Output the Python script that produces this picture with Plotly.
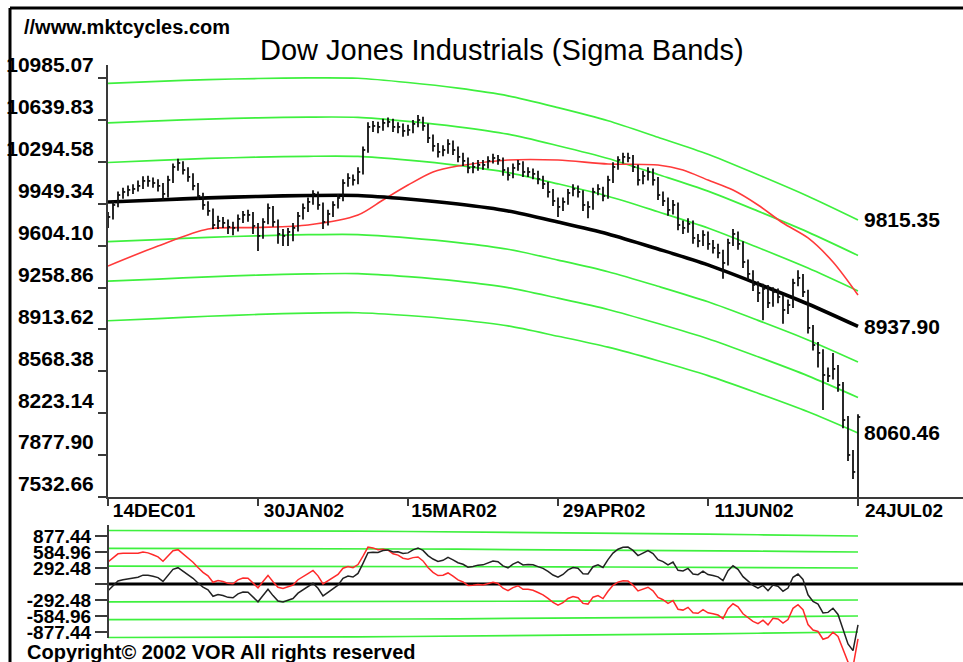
import plotly.graph_objects as go

# ---------------- data ----------------
DATE_TICKS = [0, 30, 60, 90, 120, 150]
DATE_LABELS = ["14DEC01", "30JAN02", "15MAR02", "29APR02", "11JUN02", "24JUL02"]

PRICE_TICKS = [7532.66, 7877.90, 8223.14, 8568.38, 8913.62, 9258.86,
               9604.10, 9949.34, 10294.58, 10639.83, 10985.07]

OSC_TICKS = [877.44, 584.96, 292.48, 0, -292.48, -584.96, -877.44]
OSC_LABELS = ["877.44", "584.96", "292.48", "", "-292.48", "-584.96", "-877.44"]

CLOSE = [9840, 9939, 10021, 10046, 10063, 10071, 10096, 10137, 10137, 10120,
         10096, 10030, 10145, 10252, 10285, 10227, 10170, 10096, 10013, 9939,
         9890, 9774, 9807, 9791, 9758, 9750, 9824, 9857, 9857, 9766,
         9684, 9799, 9914, 9799, 9700, 9684, 9717, 9750, 9848, 9914,
         9964, 10030, 9939, 9799, 9865, 9939, 9997, 10120, 10161, 10145,
         10211, 10392, 10582, 10590, 10582, 10615, 10623, 10582, 10582, 10549,
         10557, 10607, 10639, 10590, 10491, 10425, 10376, 10392, 10442, 10392,
         10335, 10302, 10244, 10252, 10269, 10269, 10302, 10326, 10310, 10227,
         10186, 10244, 10277, 10211, 10211, 10195, 10153, 10112, 10046, 9972,
         9923, 9964, 10038, 10071, 10046, 9939, 9923, 10046, 10071, 10013,
         10145, 10252, 10310, 10335, 10326, 10252, 10145, 10178, 10211, 10145,
         10021, 9972, 9898, 9939, 9774, 9750, 9783, 9667, 9642, 9692,
         9618, 9585, 9544, 9461, 9626, 9700, 9618, 9469, 9371, 9280,
         9214, 9247, 9132, 9222, 9181, 9074, 9115, 9296, 9338, 9222,
         8926, 8785, 8720, 8538, 8530, 8588, 8456, 8167, 7879, 7739,
         8192]

HIGH = [9880, 9975, 10050, 10080, 10100, 10110, 10140, 10175, 10180, 10165,
        10150, 10120, 10180, 10280, 10320, 10300, 10250, 10200, 10120, 10040,
        9970, 9910, 9850, 9840, 9820, 9800, 9860, 9890, 9900, 9880,
        9790, 9830, 9950, 9930, 9820, 9740, 9750, 9790, 9880, 9950,
        10000, 10060, 10050, 9960, 9900, 9970, 10030, 10150, 10200, 10190,
        10250, 10420, 10620, 10630, 10625, 10650, 10660, 10650, 10620, 10610,
        10600, 10640, 10680, 10665, 10610, 10520, 10450, 10430, 10480, 10470,
        10420, 10370, 10330, 10290, 10310, 10310, 10340, 10360, 10350, 10330,
        10250, 10280, 10310, 10300, 10250, 10240, 10220, 10180, 10130, 10070,
        10000, 10000, 10070, 10110, 10100, 10060, 9970, 10080, 10110, 10090,
        10180, 10290, 10340, 10370, 10370, 10350, 10270, 10220, 10250, 10240,
        10170, 10050, 10000, 9980, 9960, 9810, 9830, 9810, 9700, 9730,
        9720, 9650, 9620, 9570, 9660, 9740, 9720, 9640, 9490, 9400,
        9310, 9290, 9280, 9260, 9250, 9200, 9160, 9330, 9400, 9370,
        9240, 8950, 8810, 8750, 8600, 8720, 8620, 8480, 8200, 7920,
        8215]

LOW = [9750, 9820, 9920, 9990, 10010, 10030, 10050, 10070, 10090, 10080,
       10050, 9980, 10000, 10120, 10220, 10190, 10130, 10060, 9980, 9900,
       9850, 9740, 9740, 9750, 9700, 9690, 9720, 9790, 9800, 9700,
       9560, 9660, 9780, 9760, 9620, 9600, 9600, 9640, 9720, 9820,
       9880, 9940, 9900, 9740, 9770, 9840, 9910, 9970, 10090, 10100,
       10110, 10190, 10370, 10540, 10530, 10550, 10580, 10540, 10530, 10500,
       10510, 10530, 10580, 10550, 10450, 10380, 10330, 10340, 10360, 10350,
       10290, 10260, 10200, 10200, 10220, 10230, 10240, 10280, 10270, 10180,
       10140, 10160, 10220, 10170, 10170, 10150, 10110, 10070, 10000, 9930,
       9840, 9890, 9940, 10010, 10000, 9890, 9830, 9900, 10020, 9970,
       9990, 10120, 10230, 10280, 10290, 10210, 10100, 10110, 10140, 10100,
       9980, 9930, 9850, 9860, 9730, 9700, 9710, 9620, 9590, 9600,
       9570, 9540, 9500, 9330, 9440, 9600, 9570, 9420, 9320, 9230,
       9140, 8990, 9090, 9100, 9130, 8960, 9040, 9090, 9270, 9180,
       8880, 8740, 8600, 8250, 8480, 8500, 8400, 8100, 7830, 7680,
       7532.66]

# smooth curves sampled every 10 bars
CURVE_IDX = [0, 10, 20, 30, 40, 50, 60, 70, 80, 90, 100, 110, 120, 130, 140, 150]
CENTER = [9963, 9980, 9997, 10009, 10017, 10017, 9988, 9947, 9890, 9799,
          9700, 9576, 9445, 9288, 9123, 8937.90]
BAND_P3 = [10941, 10958, 10972, 10981, 10986, 10983, 10948, 10901, 10838, 10741,
           10633, 10497, 10357, 10188, 10011, 9815.35]
BAND_P2 = [10615, 10632, 10647, 10657, 10663, 10661, 10628, 10583, 10522, 10427,
           10322, 10190, 10053, 9888, 9715, 9522.87]
BAND_P1 = [10289, 10306, 10322, 10333, 10340, 10339, 10308, 10265, 10206, 10113,
           10011, 9883, 9749, 9588, 9419, 9230.38]
BAND_M1 = [9637, 9654, 9672, 9685, 9694, 9695, 9668, 9629, 9574, 9485,
           9389, 9269, 9141, 8988, 8827, 8645.42]
BAND_M2 = [9311, 9328, 9347, 9361, 9371, 9373, 9348, 9311, 9258, 9171,
           9078, 8962, 8837, 8688, 8531, 8352.94]
BAND_M3 = [8985, 9002, 9022, 9037, 9048, 9051, 9028, 8993, 8942, 8857,
           8767, 8655, 8533, 8388, 8235, 8060.46]

MA_IDX = [0, 10, 20, 30, 40, 50, 55, 60, 65, 70, 80, 90, 100, 110, 115, 120,
          125, 130, 135, 140, 145, 150]
MA = [9436, 9601, 9741, 9753, 9774, 9856, 9980, 10103, 10211, 10260, 10309, 10309,
      10277, 10268, 10227, 10144, 10062, 9939, 9790, 9667, 9469, 9197]

END_LABELS = ["9815.35", "8937.90", "8060.46"]
END_VALUES = [9815.35, 8937.90, 8060.46]

# lower panel: deviation from centre line (black) and from moving average (red)
DEV_CENTER = [-123, -26, 55, 78, 93, 99, 123, 162, 160, 142,
              116, 48, 162, 267, 298, 238, 180, 104, 19, -56,
              -107, -224, -192, -210, -244, -253, -180, -148, -150, -242,
              -325, -211, -97, -212, -312, -329, -297, -265, -167, -102,
              -53, 13, -78, -218, -152, -78, -20, 103, 144, 128,
              194, 378, 571, 582, 577, 612, 623, 585, 588, 558,
              569, 623, 659, 614, 519, 457, 413, 433, 487, 441,
              388, 361, 308, 322, 345, 350, 389, 419, 409, 331,
              296, 363, 405, 348, 357, 350, 318, 286, 229, 164,
              124, 175, 259, 302, 287, 189, 183, 316, 351, 303,
              445, 564, 635, 672, 676, 614, 519, 565, 610, 557,
              445, 409, 348, 402, 250, 239, 285, 183, 171, 234,
              173, 156, 130, 63, 244, 333, 267, 134, 52, -24,
              -74, -25, -123, -17, -41, -132, -74, 123, 182, 82,
              -197, -320, -366, -530, -519, -443, -556, -827, -1096, -1218,
              -746]
DEV_MA = [404, 486, 552, 560, 561, 552, 561, 585, 569, 535,
          495, 415, 516, 609, 628, 556, 485, 397, 300, 212,
          149, 32, 64, 46, 12, 3, 76, 108, 106, 14,
          -69, 44, 157, 40, -61, -80, -49, -18, 78, 142,
          190, 248, 149, 0, 58, 124, 174, 289, 321, 297,
          355, 511, 676, 660, 627, 635, 618, 553, 528, 471,
          454, 482, 493, 422, 302, 214, 155, 161, 202, 142,
          75, 37, -26, -23, -11, -16, 13, 32, 11, -77,
          -123, -65, -32, -98, -98, -114, -156, -197, -263, -337,
          -386, -342, -265, -228, -250, -354, -367, -241, -212, -267,
          -132, -24, 35, 61, 53, -21, -127, -93, -59, -124,
          -247, -288, -354, -304, -461, -477, -427, -527, -535, -469,
          -526, -543, -567, -634, -452, -362, -419, -544, -617, -684,
          -725, -662, -747, -628, -639, -716, -650, -445, -378, -470,
          -741, -842, -868, -1010, -979, -881, -959, -1193, -1427, -1512,
          -1005]

SIG_P3 = [978, 978, 975, 972, 969, 966, 960, 954, 948, 942, 933, 921, 912, 900, 888, 877.44]
SIG_P2 = [652, 652, 650, 648, 646, 644, 640, 636, 632, 628, 622, 614, 608, 600, 592, 584.96]
SIG_P1 = [326, 326, 325, 324, 323, 322, 320, 318, 316, 314, 311, 307, 304, 300, 296, 292.48]
SIG_M1 = [-326, -326, -325, -324, -323, -322, -320, -318, -316, -314, -311, -307, -304, -300, -296, -292.48]
SIG_M2 = [-652, -652, -650, -648, -646, -644, -640, -636, -632, -628, -622, -614, -608, -600, -592, -584.96]
SIG_M3 = [-978, -978, -975, -972, -969, -966, -960, -954, -948, -942, -933, -921, -912, -900, -888, -877.44]

# ---------------- figure ----------------
W, H = 963, 662
FONT = "Liberation Sans, Arial, Helvetica, sans-serif"
GREEN = "#3ef03e"
AXC = "#3a3a3a"

def px_x(p):
    return p / W

def px_y(p):
    return 1 - p / H

BARS = list(range(len(CLOSE)))

fig = go.Figure()

# main panel bands
for band in [BAND_P3, BAND_P2, BAND_P1, BAND_M1, BAND_M2, BAND_M3]:
    fig.add_trace(go.Scatter(x=CURVE_IDX, y=band, mode="lines",
                             line=dict(color=GREEN, width=1.7, shape="spline", smoothing=0.8),
                             xaxis="x", yaxis="y", hoverinfo="skip"))
fig.add_trace(go.Scatter(x=MA_IDX, y=MA, mode="lines",
                         line=dict(color="#ff3a3a", width=1.6, shape="spline", smoothing=0.8),
                         xaxis="x", yaxis="y", hoverinfo="skip"))
fig.add_trace(go.Scatter(x=CURVE_IDX, y=CENTER, mode="lines",
                         line=dict(color="black", width=3.6, shape="spline", smoothing=0.8),
                         xaxis="x", yaxis="y", hoverinfo="skip"))

# price bars (high-low with close tick)
seg_x, seg_y = [], []
for i, h, l, c in zip(BARS, HIGH, LOW, CLOSE):
    seg_x += [i, i, None, i, i + 0.45, None]
    seg_y += [l, h, None, c, c, None]
fig.add_trace(go.Scatter(x=seg_x, y=seg_y, mode="lines",
                         line=dict(color="#111111", width=1.8),
                         xaxis="x", yaxis="y", hoverinfo="skip"))

# lower panel
for band in [SIG_P3, SIG_P2, SIG_P1, SIG_M1, SIG_M2, SIG_M3]:
    fig.add_trace(go.Scatter(x=CURVE_IDX, y=band, mode="lines",
                             line=dict(color=GREEN, width=1.7),
                             xaxis="x2", yaxis="y2", hoverinfo="skip"))
fig.add_trace(go.Scatter(x=[0, 171], y=[0, 0], mode="lines",
                         line=dict(color="black", width=3),
                         xaxis="x2", yaxis="y2", hoverinfo="skip"))
fig.add_trace(go.Scatter(x=BARS, y=DEV_MA, mode="lines",
                         line=dict(color="#ff2a2a", width=1.5),
                         xaxis="x2", yaxis="y2", hoverinfo="skip"))
fig.add_trace(go.Scatter(x=BARS, y=DEV_CENTER, mode="lines",
                         line=dict(color="#222222", width=1.5),
                         xaxis="x2", yaxis="y2", hoverinfo="skip"))

# end-of-line value labels
for lab, val in zip(END_LABELS, END_VALUES):
    fig.add_annotation(x=150, y=val, xref="x", yref="y", text=lab, showarrow=False,
                       xanchor="left", yanchor="middle", xshift=4,
                       font=dict(family=FONT, size=21, color="black", weight="bold"))

fig.add_annotation(x=px_x(22), y=px_y(27), xref="paper", yref="paper",
                   text="//www.mktcycles.com", showarrow=False, xanchor="left", yanchor="middle",
                   font=dict(family=FONT, size=20, color="black", weight="bold"))
fig.add_annotation(x=px_x(502), y=px_y(50), xref="paper", yref="paper",
                   text="Dow Jones Industrials (Sigma Bands)", showarrow=False,
                   xanchor="center", yanchor="middle",
                   font=dict(family=FONT, size=29, color="black"))
fig.add_annotation(x=px_x(25), y=px_y(652), xref="paper", yref="paper",
                   text="Copyright\u00a9 2002 VOR All rights reserved", showarrow=False,
                   xanchor="left", yanchor="middle",
                   font=dict(family=FONT, size=20, color="black", weight="bold"))

# frame and lower axis line
fig.add_shape(type="line", xref="paper", yref="paper", x0=px_x(10), x1=px_x(10),
              y0=0, y1=px_y(8), line=dict(color="black", width=3))
fig.add_shape(type="line", xref="paper", yref="paper", x0=px_x(10), x1=1,
              y0=px_y(8), y1=px_y(8), line=dict(color="black", width=3))
fig.add_shape(type="line", xref="paper", yref="paper", x0=px_x(108), x1=px_x(108),
              y0=px_y(638), y1=px_y(525), line=dict(color=AXC, width=2))

XDOM = [px_x(108), 1]
fig.update_layout(
    width=W, height=H,
    margin=dict(l=0, r=0, t=0, b=0, pad=0, autoexpand=False),
    paper_bgcolor="white", plot_bgcolor="white",
    showlegend=False,
    font=dict(family=FONT, color="black"),
    xaxis=dict(domain=XDOM, range=[0, 171], anchor="y", automargin=False,
               tickmode="array", tickvals=DATE_TICKS, ticktext=DATE_LABELS,
               ticks="outside", ticklen=7, tickwidth=2, tickcolor=AXC,
               showline=True, linecolor=AXC, linewidth=2,
               showgrid=False, zeroline=False,
               ticklabelshift=46, ticklabelstandoff=-12,
               tickfont=dict(family=FONT, size=19, color="black", weight="bold")),
    yaxis=dict(domain=[px_y(497), px_y(65)], range=[7532.66, 11092.2], anchor="x",
               automargin=False,
               tickmode="array", tickvals=PRICE_TICKS,
               ticktext=["%.2f" % v for v in PRICE_TICKS],
               ticks="outside", ticklen=8, tickwidth=2, tickcolor=AXC,
               showline=True, linecolor=AXC, linewidth=2,
               showgrid=False, zeroline=False, ticklabelshift=-13,
               tickfont=dict(family=FONT, size=21, color="black", weight="bold")),
    xaxis2=dict(domain=XDOM, range=[0, 171], anchor="y2", matches="x", visible=False,
                automargin=False),
    yaxis2=dict(domain=[0, px_y(525)], range=[-1425.8, 1078.5], anchor="x2",
                automargin=False,
                tickmode="array", tickvals=OSC_TICKS, ticktext=OSC_LABELS,
                ticks="outside", ticklen=12, tickwidth=2, tickcolor=AXC,
                showline=False, showgrid=False, zeroline=False,
                tickfont=dict(family=FONT, size=19, color="black", weight="bold")),
)

PAGE_JS = (
    "var gd=document.getElementById('{plot_id}');"
    "gd.style.position='fixed';gd.style.left='0px';gd.style.top='0px';"
    "var de=document.documentElement;de.style.margin='0';de.style.padding='0';de.style.overflow='hidden';"
    "document.body.style.margin='0';document.body.style.padding='0';document.body.style.overflow='hidden';"
)

fig.write_html(
    "out.html",
    config={"displayModeBar": False},
    post_script=PAGE_JS,
)
